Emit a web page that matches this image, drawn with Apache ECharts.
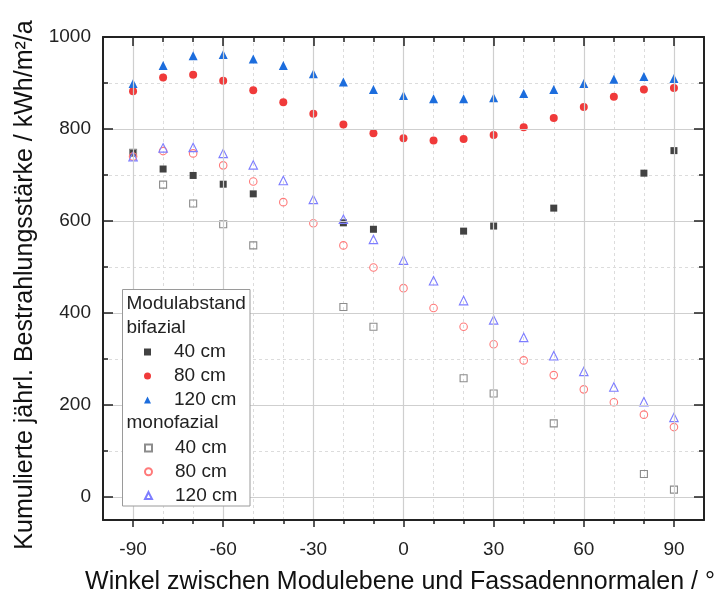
<!DOCTYPE html>
<html>
<head>
<meta charset="utf-8">
<script src="https://cdn.jsdelivr.net/npm/echarts@6/dist/echarts.min.js"></script>
<style>
  html, body { margin: 0; padding: 0; background: #fff; }
  #chart { width: 721px; height: 593px; }
</style>
</head>
<body>
<div id="chart"></div>
<script>
// Angle between module plane and facade normal (degrees)
const angles = [-90, -80, -70, -60, -50, -40, -30, -20, -10, 0, 10, 20, 30, 40, 50, 60, 70, 80, 90];

// Cumulative annual irradiation in kWh/m²/a (null = no simulation point)
const bifazial40  = [749, 713, 699, 680, 659, null, null, 596, 582, null, null, 578, 589, null, 628, null, null, 704, 753];
const bifazial80  = [882, 912, 918, 905, 884, 858, 833, 810, 791, 780, 775, 778, 787, 804, 824, 848, 870, 886, 889];
const bifazial120 = [899, 938, 959, 962, 952, 938, 920, 902, 886, 873, 866, 866, 868, 877, 886, 899, 908, 914, 910];
const monofazial40  = [748, 679, 638, 593, 547, null, null, 413, 370, null, null, 258, 225, null, 160, null, null, 50, 16];
const monofazial80  = [740, 752, 747, 721, 686, 641, 595, 547, 499, 454, 411, 370, 332, 297, 265, 234, 206, 179, 152];
const monofazial120 = [740, 759, 760, 747, 722, 688, 647, 604, 560, 515, 470, 427, 385, 347, 307, 273, 239, 207, 173];

// Tick values
const xMajorTicks = [-90, -60, -30, 0, 30, 60, 90];
const xMinorTicks = [-80, -70, -50, -40, -20, -10, 10, 20, 40, 50, 70, 80];
const yMajorTicks = [0, 200, 400, 600, 800, 1000];
const yMinorTicks = [100, 300, 500, 700, 900];

const xTitle = 'Winkel zwischen Modulebene und Fassadennormalen / °';
const yTitle = 'Kumulierte jährl. Bestrahlungsstärke / kWh/m²/a';
const legendTitle = 'Modulabstand';
const groupBifazial = 'bifazial';
const groupMonofazial = 'monofazial';

const FONT = '"Liberation Sans", Arial, sans-serif';

function toPoints(values) {
  const pts = [];
  values.forEach((v, i) => { if (v !== null) pts.push([angles[i], v]); });
  return pts;
}

function filled(name, values, symbol, size, color) {
  return {
    name, type: 'scatter', xAxisIndex: 0, yAxisIndex: 0,
    symbol, symbolSize: size,
    itemStyle: { color, opacity: 1 },
    emphasis: { disabled: true },
    data: toPoints(values), z: 3
  };
}
function hollow(name, values, symbol, size, color) {
  return {
    name, type: 'scatter', xAxisIndex: 0, yAxisIndex: 0,
    symbol, symbolSize: size,
    itemStyle: { color: 'rgba(255,255,255,0)', borderColor: color, borderWidth: 1.1, opacity: 1 },
    emphasis: { disabled: true },
    data: toPoints(values), z: 4
  };
}

const AXIS_COLOR = '#222';
const MAJOR_GRID = { show: true, lineStyle: { color: '#cfcfcf', width: 1.2, type: 'solid' } };
const MINOR_GRID = { show: true, lineStyle: { color: '#dcdcdc', width: 1, type: [3, 3] } };
const labelStyle = { fontFamily: FONT, fontSize: 19, color: '#222', formatter: v => String(v) };

function xAxisDef(position, ticks, tickLen, inside, opts) {
  return Object.assign({
    type: 'value', position, min: -100, max: 100, gridIndex: 0,
    axisLine: { show: false, onZero: false },
    axisTick: { show: true, customValues: ticks, length: tickLen, inside, lineStyle: { color: AXIS_COLOR, width: 1.5 } },
    axisLabel: { show: false },
    splitLine: { show: false }
  }, opts);
}
function yAxisDef(position, ticks, tickLen, inside, opts) {
  return Object.assign({
    type: 'value', position, min: -50, max: 1000, gridIndex: 0,
    axisLine: { show: false, onZero: false },
    axisTick: { show: true, customValues: ticks, length: tickLen, inside, lineStyle: { color: AXIS_COLOR, width: 1.5 } },
    axisLabel: { show: false },
    splitLine: { show: false }
  }, opts);
}

const option = {
  backgroundColor: '#fff',
  animation: false,
  grid: { left: 103, right: 17, top: 37, bottom: 73, containLabel: false, outerBoundsMode: 'none' },
  xAxis: [
    xAxisDef('bottom', xMajorTicks, 7, false, {
      axisLine: { show: true, onZero: false, lineStyle: { color: AXIS_COLOR, width: 2 } },
      axisLabel: Object.assign({ show: true, customValues: xMajorTicks, margin: 20 }, labelStyle),
      splitLine: MAJOR_GRID,
      name: xTitle, nameLocation: 'middle', nameGap: 50,
      nameTextStyle: { fontFamily: FONT, fontSize: 25, color: '#111', padding: [0, 7, 0, 0] },
      z: 5
    }),
    xAxisDef('bottom', xMinorTicks, 4, false, { splitLine: MINOR_GRID, z: 1 }),
    xAxisDef('top', xMajorTicks, 9, true, {
      axisLine: { show: true, onZero: false, lineStyle: { color: AXIS_COLOR, width: 2 } }, z: 5
    }),
    xAxisDef('top', xMinorTicks, 5, true, { z: 5 })
  ],
  yAxis: [
    yAxisDef('left', yMajorTicks, 10, true, {
      axisLine: { show: true, onZero: false, lineStyle: { color: AXIS_COLOR, width: 2 } },
      axisLabel: Object.assign({ show: true, customValues: yMajorTicks, margin: 12 }, labelStyle),
      splitLine: MAJOR_GRID,
      name: yTitle, nameLocation: 'middle', nameGap: 50, nameRotate: 90,
      nameTextStyle: { fontFamily: FONT, fontSize: 25, color: '#111', padding: [0, 13, 0, 0] },
      z: 5
    }),
    yAxisDef('left', yMinorTicks, 5, true, { splitLine: MINOR_GRID, z: 1 }),
    yAxisDef('right', yMajorTicks, 10, true, {
      axisLine: { show: true, onZero: false, lineStyle: { color: AXIS_COLOR, width: 2 } }, z: 5
    }),
    yAxisDef('right', yMinorTicks, 5, true, { z: 5 })
  ],
  legend: [
    {
      data: ['bifazial 40 cm', 'bifazial 80 cm', 'bifazial 120 cm'],
      orient: 'vertical', left: 144, top: 342, padding: 0,
      itemWidth: 7, itemHeight: 7, itemGap: 4,
      formatter: name => name.replace(/^\S+ /, ''),
      textStyle: { fontFamily: FONT, fontSize: 19, color: '#222', lineHeight: 20, padding: [0, 0, 0, 18] },
      selectedMode: false, z: 10
    },
    {
      data: ['monofazial 40 cm', 'monofazial 80 cm', 'monofazial 120 cm'],
      orient: 'vertical', left: 144, top: 438, padding: 0,
      itemWidth: 7, itemHeight: 7, itemGap: 3.8,
      formatter: name => name.replace(/^\S+ /, ''),
      textStyle: { fontFamily: FONT, fontSize: 19, color: '#222', lineHeight: 20, padding: [0, 0, 0, 18] },
      selectedMode: false, z: 10
    }
  ],
  graphic: [
    {
      type: 'rect', z: 8, silent: true,
      shape: { x: 122.5, y: 289.5, width: 127.5, height: 216.5 },
      style: { fill: '#fff', stroke: '#9a9a9a', lineWidth: 1 }
    },
    { type: 'text', z: 9, silent: true, x: 126.5, y: 303.5,
      style: { text: legendTitle, font: '19px ' + FONT, fill: '#222', verticalAlign: 'middle' } },
    { type: 'text', z: 9, silent: true, x: 126.5, y: 327.5,
      style: { text: groupBifazial, font: '19px ' + FONT, fill: '#222', verticalAlign: 'middle' } },
    { type: 'text', z: 9, silent: true, x: 126.5, y: 422.5,
      style: { text: groupMonofazial, font: '19px ' + FONT, fill: '#222', verticalAlign: 'middle' } }
  ],
  series: [
    filled('bifazial 40 cm', bifazial40, 'rect', 7, '#424242'),
    filled('bifazial 80 cm', bifazial80, 'circle', 8, '#f03a3a'),
    filled('bifazial 120 cm', bifazial120, 'triangle', 9, '#1c6ddd'),
    hollow('monofazial 40 cm', monofazial40, 'rect', 7, '#8c8c8c'),
    hollow('monofazial 80 cm', monofazial80, 'circle', 7.5, '#ff7a7a'),
    hollow('monofazial 120 cm', monofazial120, 'triangle', 8.5, '#7d7dff')
  ]
};

const chart = echarts.init(document.getElementById('chart'), null, { renderer: 'canvas' });
chart.setOption(option);
</script>
</body>
</html>
